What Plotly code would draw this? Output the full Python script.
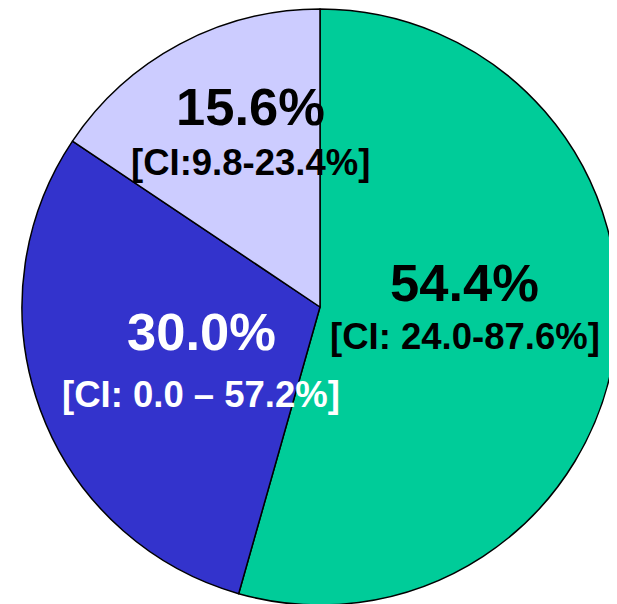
import plotly.graph_objects as go

W, H = 617, 604
OFF = 8  # page body margin offset

labels = ["Group A", "Group B", "Group C"]
values = [54.4, 30.0, 15.6]
colors = ["#00CC99", "#3333CC", "#CCCCFF"]
pct_labels = ["54.4%", "30.0%", "15.6%"]
ci_labels = ["[CI: 24.0-87.6%]", "[CI: 0.0 \u2013 57.2%]", "[CI:9.8-23.4%]"]
text_colors = ["black", "white", "black"]

# label positions in window pixels (x, y for pct line, y for CI line)
label_pos = [(465, 283, 337), (201, 331, 394), (250, 106, 162)]

cx, cy, r = 320 - OFF, 307 - OFF, 298

fig = go.Figure(go.Pie(
    labels=labels,
    values=values,
    sort=False,
    direction="clockwise",
    rotation=0,
    marker=dict(colors=colors, line=dict(color="black", width=1.5)),
    textinfo="none",
    hoverinfo="label+percent",
    showlegend=False,
    domain=dict(x=[(cx - r) / W, (cx + r) / W], y=[1 - (cy + r) / H, 1 - (cy - r) / H]),
))

annotations = []
for (px, py1, py2), p, ci, c in zip(label_pos, pct_labels, ci_labels, text_colors):
    annotations.append(dict(
        x=(px - OFF) / W, y=1 - (py1 - OFF) / H, xref="paper", yref="paper",
        text="<b>%s</b>" % p, showarrow=False,
        xanchor="center", yanchor="middle",
        font=dict(family="Liberation Sans, Arial, sans-serif", size=52.5, color=c),
    ))
    annotations.append(dict(
        x=(px - OFF) / W, y=1 - (py2 - OFF) / H, xref="paper", yref="paper",
        text="<b>%s</b>" % ci, showarrow=False,
        xanchor="center", yanchor="middle",
        font=dict(family="Liberation Sans, Arial, sans-serif", size=36.5, color=c),
    ))

fig.update_layout(
    width=W, height=H,
    margin=dict(l=0, r=0, t=0, b=0),
    paper_bgcolor="white",
    plot_bgcolor="white",
    annotations=annotations,
)

fig.write_html("out.html")
